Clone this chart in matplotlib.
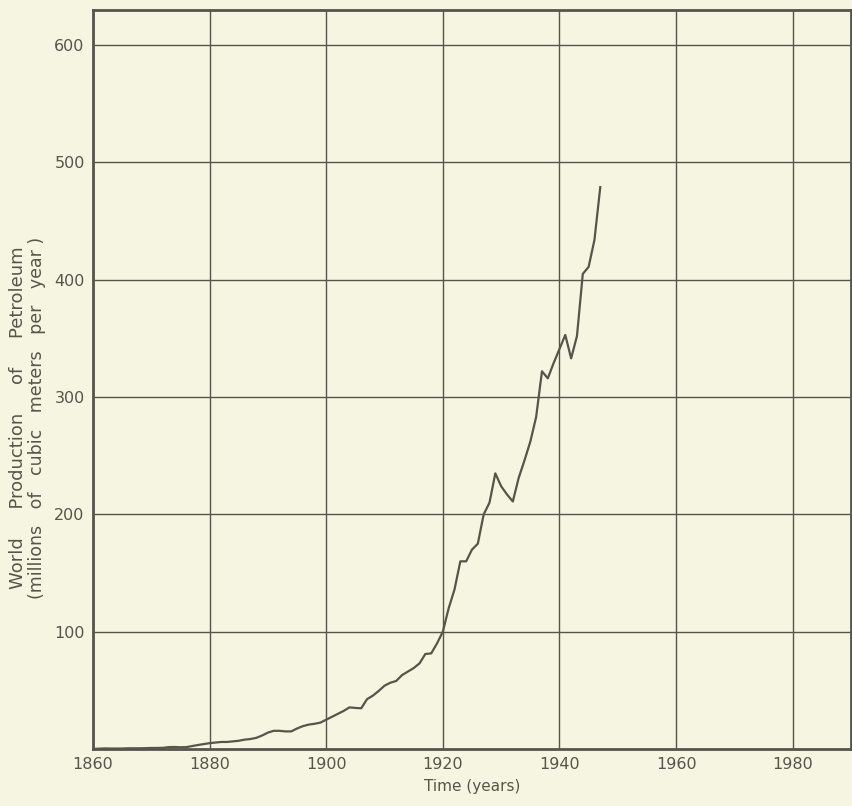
import matplotlib.pyplot as plt

# World petroleum production, millions of cubic meters per year
years = list(range(1860, 1948))
production = [
    0.1, 0.3, 0.5, 0.4, 0.4, 0.4, 0.6, 0.6, 0.6, 0.7,          # 1860s
    0.9, 0.9, 1.0, 1.6, 1.7, 1.5, 1.6, 2.5, 3.4, 4.2,          # 1870s
    5.0, 5.5, 6.0, 6.0, 6.5, 7.0, 8.0, 8.5, 9.5, 11.5,         # 1880s
    14.0, 15.5, 15.5, 15.0, 15.0, 17.5, 19.5, 20.8, 21.5, 22.5,  # 1890s
    25.0, 27.5, 30.0, 32.5, 35.5, 35.0, 34.7, 42.5, 45.5, 49.5,  # 1900s
    54.0, 56.5, 58.0, 63.0, 66.0, 69.0, 73.0, 81.0, 81.5, 90.0,  # 1910s
    100, 120, 136, 160, 160, 170, 175, 200, 210, 235,          # 1920s
    224, 217, 211, 231, 246, 262, 283, 322, 316, 329,          # 1930s
    341, 353, 333, 352, 405, 411, 434, 479,                    # 1940-1947
]

x_ticks = [1860, 1880, 1900, 1920, 1940, 1960, 1980]
y_ticks = [100, 200, 300, 400, 500, 600]

bg = '#f6f5e1'
ink = '#55554b'

fig = plt.figure(figsize=(8.53, 8.06), dpi=100, facecolor=bg)
ax = fig.add_axes([93 / 853, 1 - 749 / 806, 758 / 853, 739 / 806])
ax.set_facecolor(bg)

ax.plot(years, production, color=ink, linewidth=1.6)

ax.set_xlim(1860, 1990)
ax.set_ylim(0, 630)
ax.set_xticks(x_ticks)
ax.set_yticks(y_ticks)
ax.grid(True, color=ink, linewidth=1.0)
ax.set_axisbelow(True)
ax.tick_params(length=0, pad=6, labelsize=11.5, colors=ink)
for sp in ax.spines.values():
    sp.set_color(ink)
    sp.set_linewidth(2.0)

ax.set_xlabel('Time (years)', fontsize=11, color=ink, labelpad=5)

fig.text(18 / 853, 1 - 418 / 806, 'World     Production     of     Petroleum',
         rotation=90, ha='center', va='center', fontsize=13, color=ink)
fig.text(37 / 853, 1 - 418 / 806, '(millions   of   cubic   meters   per   year )',
         rotation=90, ha='center', va='center', fontsize=12.5, color=ink)

fig.savefig('out.png', dpi=100, facecolor=bg)
